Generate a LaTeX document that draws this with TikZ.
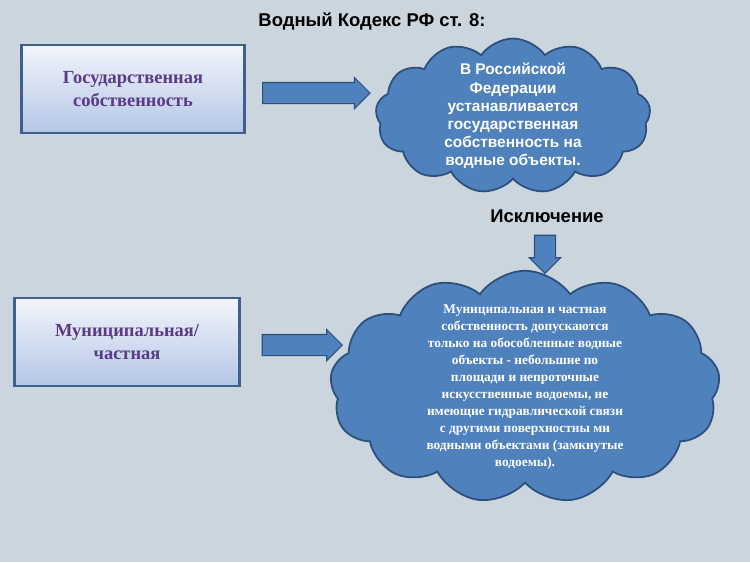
\documentclass[tikz,border=0pt]{standalone}
\usepackage{fontspec}
\setmainfont{Liberation Serif}
\setsansfont{Liberation Sans}
\usetikzlibrary{shapes.symbols,shapes.arrows}

\definecolor{bgblue}{HTML}{CBD5DD}
\definecolor{boxtop}{HTML}{F2F5FB}
\definecolor{boxbot}{HTML}{B4C6E6}
\definecolor{boxline}{HTML}{3F5F8F}
\definecolor{purpletext}{HTML}{5B3A86}
\definecolor{cloudfill}{HTML}{4F81BD}
\definecolor{cloudline}{HTML}{2C4F7C}

\tikzset{
  statebox/.style={draw=boxline, line width=1.2pt, top color=boxtop, bottom color=boxbot,
    text=purpletext, font=\bfseries\fontsize{10.5}{13}\selectfont, align=center},
  blockarrow/.style={single arrow, draw=cloudline, fill=cloudfill, line width=0.6pt,
    single arrow head extend=0.1cm, inner xsep=0pt, inner ysep=0.2cm, minimum height=#1},
  water/.style={cloud, cloud puffs=13, cloud puff arc=110, aspect=1.6, draw=cloudline,
    line width=1pt, fill=cloudfill, inner sep=0pt},
  cloudtext/.style={text=white, align=center}
}

\begin{document}
\begin{tikzpicture}[x=0.02cm,y=-0.02cm]
  \fill[bgblue] (0,0) rectangle (750,562);
  \useasboundingbox (0,0) rectangle (750,562);

  \node[font=\sffamily\bfseries\fontsize{10.5}{12}\selectfont] (title) at (372,21) {Водный Кодекс РФ ст. 8:};

  \node[statebox, minimum width=4.46cm, minimum height=1.76cm] (state) at (133,89)
    {Государственная\\собственность};
  \node[statebox, minimum width=4.5cm, minimum height=1.76cm] (muni) at (127,342)
    {Муниципальная/\\частная};

  \node[water, minimum width=5.5cm, minimum height=3.1cm] (cloudA) at (513,116) {};
  \node[cloudtext, font=\sffamily\bfseries\fontsize{8.8}{10.3}\selectfont] (textA) at (cloudA)
    {В Российской\\Федерации\\устанавливается\\государственная\\собственность на\\водные объекты.};

  \node[water, minimum width=7.8cm, minimum height=4.65cm] (cloudB) at (525,387) {};
  \node[cloudtext, font=\bfseries\fontsize{7.6}{9.7}\selectfont] (textB) at (cloudB)
    {Муниципальная и частная\\собственность допускаются\\только на обособленные водные\\объекты - небольшие по\\площади и непроточные\\искусственные водоемы, не\\имеющие гидравлической связи\\с другими поверхностны ми\\водными объектами (замкнутые\\водоемы).};

  \node[font=\sffamily\bfseries\fontsize{10.5}{12}\selectfont] (except) at (547,216) {Исключение};

  \node[blockarrow=2.15cm] (arrA) at (311,93) {};
  \node[blockarrow=1.6cm] (arrB) at (297,345) {};
  \node[blockarrow=0.76cm, inner xsep=0.2cm, inner ysep=0pt, shape border rotate=270] (arrC) at (545,249) {};
\end{tikzpicture}
\end{document}
